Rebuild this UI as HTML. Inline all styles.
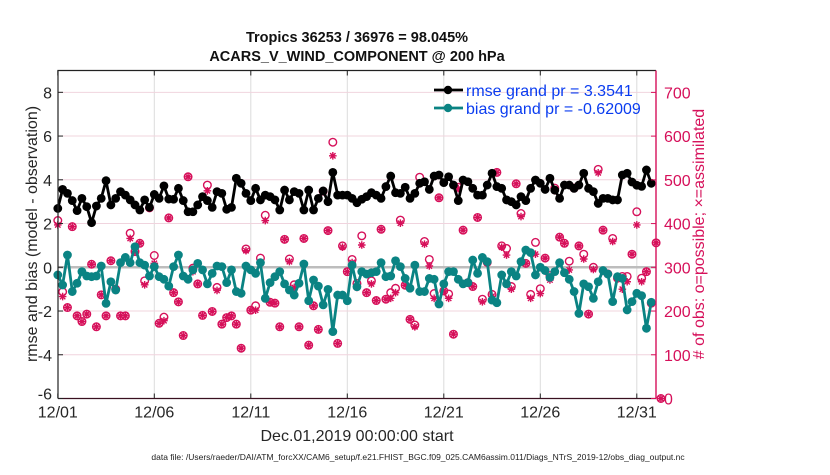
<!DOCTYPE html>
<html><head><meta charset="utf-8"><style>
body{margin:0;background:#fff;}
svg text{font-family:"Liberation Sans",sans-serif;}
</style></head><body>
<svg id="c" width="830" height="470" xmlns="http://www.w3.org/2000/svg">
<rect width="830" height="470" fill="#fff"/>
<g id="grid"></g><g id="marks"></g><g id="axes"></g>
</svg>
<script>
const xTickLabels=["12/01","12/06","12/11","12/16","12/21","12/26","12/31"];
const xTickDays=[1,6,11,16,21,26,31];
const yLeftTicks=[-6,-4,-2,0,2,4,6,8];
const yRightTicks=[0,100,200,300,400,500,600,700];
const rmse=[2.69,3.56,3.38,3.05,2.59,3.15,2.77,2.04,2.80,3.15,3.96,2.85,3.15,3.46,3.30,3.08,2.85,2.62,3.08,2.74,3.33,3.15,3.72,3.12,3.11,3.61,3.05,2.54,2.54,2.85,3.23,3.05,2.74,3.46,3.38,2.65,2.74,4.07,3.84,3.38,3.05,3.61,3.08,3.30,3.23,3.08,2.62,3.53,3.08,3.46,3.38,2.62,3.53,2.62,3.15,3.49,3.00,4.34,3.30,3.30,
3.30,3.15,2.95,3.11,3.23,3.41,3.30,3.15,3.69,4.17,3.41,3.38,3.66,3.15,3.38,3.84,3.91,3.56,4.17,4.22,3.87,4.14,3.76,3.05,3.99,3.91,3.61,3.30,3.30,3.76,4.30,3.69,3.61,3.08,3.00,2.85,3.23,3.05,3.61,3.99,3.84,3.56,4.07,3.53,3.15,3.76,3.76,3.61,3.76,4.30,3.61,3.46,2.92,3.15,3.15,3.08,3.08,4.22,4.30,3.90,3.75,3.70,4.45,3.84,null];
const bias=[-0.35,-0.81,0.56,-1.11,-0.73,-0.20,-0.40,-0.43,-0.40,0.06,-1.65,-0.66,-1.04,0.21,0.45,0.21,0.94,0.21,0.10,-0.40,0.03,-0.43,-0.55,-0.86,0.03,0.56,-0.40,-0.55,-0.12,0.18,-0.12,-0.76,-0.28,0.06,0.03,-0.70,-0.12,-1.11,-1.19,0.06,-0.12,-0.28,0.21,-1.42,-0.70,-0.43,-0.20,-0.76,-1.04,-1.27,-0.73,0.15,-1.53,-0.58,-0.86,-1.72,-1.01,-2.94,-1.27,-1.27,
-1.53,0.10,-0.89,-0.20,-0.31,-0.25,-0.20,0.21,-0.43,-0.40,0.30,0.03,-0.51,-0.96,0.10,-1.11,-1.11,-0.51,-0.55,-1.68,-0.76,-0.20,-0.20,-0.55,-0.76,-0.70,0.33,-0.28,0.45,0.26,-1.50,-1.62,-0.35,-0.76,-0.20,-0.40,0.26,0.79,0.67,-0.35,0.00,-0.15,-0.46,-0.20,0.21,-0.25,-0.55,-1.11,-2.11,-0.76,-0.89,-1.42,-0.66,-0.15,-0.31,-1.57,-0.43,-0.51,-1.95,-1.57,-1.19,-1.30,-2.79,-1.60,null];
const obsPossible=[407,244,208,393,189,176,193,307,164,237,189,315,250,189,189,378,336,355,269,436,327,172,186,413,242,221,144,507,298,262,190,488,199,254,170,185,189,170,115,342,202,212,321,419,220,218,164,364,319,260,164,366,122,212,158,474,384,586,126,349,
290,318,263,372,242,269,224,387,227,242,252,408,259,181,168,506,359,318,240,459,246,239,147,483,385,265,256,414,227,311,238,517,349,343,256,491,423,309,238,357,251,321,281,481,369,355,314,481,349,330,193,300,524,385,285,366,275,279,279,330,427,275,290,218,356,0];
const obsAssim=[397,233,208,393,189,176,193,307,164,237,189,315,247,189,189,366,336,355,260,436,309,172,178,413,242,221,144,507,290,262,190,475,199,247,170,185,189,170,115,338,202,202,309,407,220,218,164,364,313,254,164,366,122,212,158,474,384,555,126,346,
290,311,254,351,242,262,224,387,227,229,242,401,259,181,164,491,353,303,229,459,246,229,147,480,385,265,256,414,221,311,234,517,346,328,250,491,416,309,229,330,240,321,271,475,369,355,294,481,349,319,193,295,516,385,285,359,275,250,267,330,397,267,290,218,356,0];

const NS="http://www.w3.org/2000/svg";
const L=58,R=656,T=70.5,B=398.5;
const x=d=>57.8+(d-1)*19.3;
const xi=i=>x(1+i/4);
const yL=v=>B-(v+6)*21.87;
const yR=c=>B-c*0.4373;
function mk(tag,attrs,parent,txt){const e=document.createElementNS(NS,tag);for(const k in attrs)e.setAttribute(k,attrs[k]);if(txt!==undefined)e.textContent=txt;parent.appendChild(e);return e;}
const grid=document.getElementById('grid'),marks=document.getElementById('marks'),axes=document.getElementById('axes');
const CR="#d6105a",TEAL="#0a8383";

xTickDays.forEach((d,i)=>{if(i==0)return;const g=mk('line',{x1:x(d),x2:x(d),y1:T,y2:B,stroke:"#dcdcdc","stroke-width":1},grid);

});
yLeftTicks.forEach(v=>{if(v==-6)return;const g=mk('line',{x1:L,x2:R,y1:yL(v),y2:yL(v),stroke:v==0?"#bdbdbd":"#f0d4de","stroke-width":v==0?2.5:1},grid);

});

obsPossible.forEach((c,i)=>{const m=mk('circle',{cx:xi(i),cy:yR(c),r:3.8,fill:"none",stroke:CR,"stroke-width":1.4},marks);

});
obsAssim.forEach((c,i)=>{const cx=xi(i),cy=yR(c),s=3.8;const g=mk('path',{d:`M${cx-s} ${cy}H${cx+s}M${cx} ${cy-s}V${cy+s}M${cx-2.7} ${cy-2.7}L${cx+2.7} ${cy+2.7}M${cx-2.7} ${cy+2.7}L${cx+2.7} ${cy-2.7}`,stroke:CR,"stroke-width":1.4},marks);

});

function series(arr,col,name){let d="";arr.forEach((v,i)=>{if(v===null)return;d+=(d?"L":"M")+xi(i).toFixed(1)+" "+yL(v).toFixed(1);});
const p=mk('path',{d:d,fill:"none",stroke:col,"stroke-width":2.8,"stroke-linejoin":"round"},marks);


arr.forEach((v,i)=>{if(v===null)return;const c=mk('circle',{cx:xi(i),cy:yL(v),r:4.4,fill:col},marks);

});}
series(rmse,"#000","rmse");
series(bias,TEAL,"bias");

let a=mk('path',{d:`M${L} ${B}V${T}H${R}`,fill:"none",stroke:"#222","stroke-width":1.2},axes);


a=mk('line',{x1:L,x2:R,y1:B,y2:B,stroke:"#3a1020","stroke-width":1.2},axes);


a=mk('line',{x1:R,x2:R,y1:T,y2:B,stroke:CR,"stroke-width":1.4},axes);


xTickDays.forEach((d,i)=>{mk('line',{x1:x(d),x2:x(d),y1:B,y2:B-5,stroke:"#222"},axes);mk('line',{x1:x(d),x2:x(d),y1:T,y2:T+5,stroke:"#222"},axes);
const t=mk('text',{x:x(d),y:B+19,"text-anchor":"middle","font-size":16,fill:"#262626"},axes,xTickLabels[i]);

});
yLeftTicks.forEach(v=>{mk('line',{x1:L,x2:L+5,y1:yL(v),y2:yL(v),stroke:"#222"},axes);
const t=mk('text',{x:L-6,y:yL(v)+(v==-6?1:6),"text-anchor":"end","font-size":16,fill:"#262626"},axes,String(v));

});
yRightTicks.forEach(c=>{mk('line',{x1:R,x2:R-5,y1:yR(c),y2:yR(c),stroke:CR},axes);
const t=mk('text',{x:R+8,y:yR(c)+6,"font-size":16,fill:CR},axes,String(c));

});
</script>
<svg style="position:absolute;left:0;top:0" width="830" height="470">
<text x="357" y="42" text-anchor="middle" font-size="14.5" font-weight="bold" fill="#111">Tropics 36253 / 36976 = 98.045%</text>
<text x="357" y="61" text-anchor="middle" font-size="14.5" font-weight="bold" fill="#111">ACARS_V_WIND_COMPONENT @ 200 hPa</text>
<text x="357" y="441" text-anchor="middle" font-size="16" fill="#262626">Dec.01,2019 00:00:00 start</text>
<text transform="translate(37,234) rotate(-90)" text-anchor="middle" font-size="16" fill="#262626">rmse and bias (model - observation)</text>
<text transform="translate(704,234) rotate(-90)" text-anchor="middle" font-size="16" fill="#d6105a"># of obs: o=possible; ×=assimilated</text>
<text x="418" y="460" text-anchor="middle" font-size="8.5" fill="#222">data file: /Users/raeder/DAI/ATM_forcXX/CAM6_setup/f.e21.FHIST_BGC.f09_025.CAM6assim.011/Diags_NTrS_2019-12/obs_diag_output.nc</text>
<g>
<line x1="434" y1="90" x2="463" y2="90" stroke="#000" stroke-width="2.8"/><circle cx="448" cy="90" r="4.2" fill="#000"/>
<text x="466" y="96" font-size="16" fill="#0a3cf0">rmse grand pr = 3.3541</text>
<line x1="434" y1="108" x2="463" y2="108" stroke="#0a8383" stroke-width="2.8"/><circle cx="448" cy="108" r="4.2" fill="#0a8383"/>
<text x="466" y="114" font-size="16" fill="#0a3cf0">bias grand pr = -0.62009</text>
</g>
</svg>
</body></html>
